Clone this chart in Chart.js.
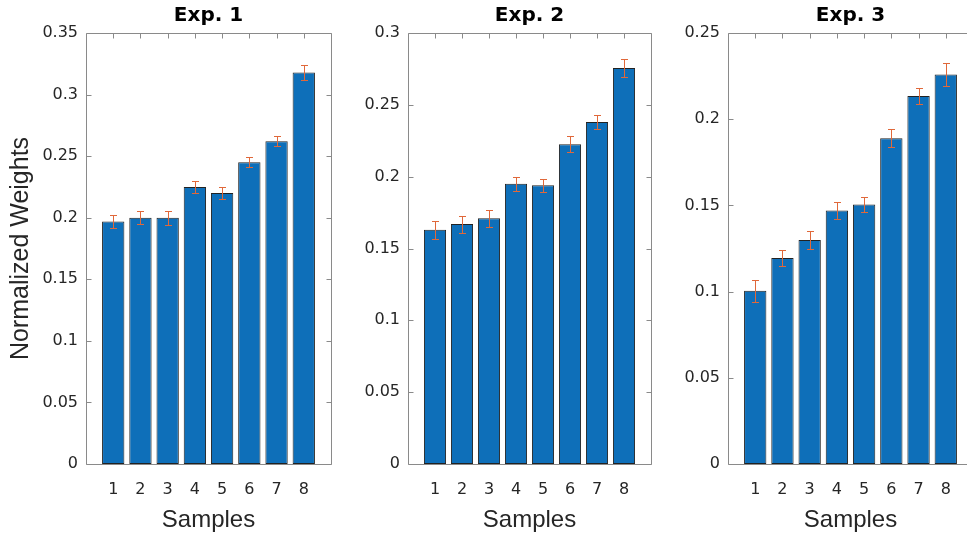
<!DOCTYPE html>
<html>
<head>
<meta charset="utf-8">
<title>Normalized Weights</title>
<script src="https://cdn.jsdelivr.net/npm/chart.js@4/dist/chart.umd.min.js"></script>
<style>
  html, body {
    margin: 0;
    padding: 0;
    background: #ffffff;
    overflow: hidden;
    width: 967px;
    height: 537px;
  }
  .panel {
    position: absolute;
    top: 0;
  }
</style>
</head>
<body>
<div class="panel" style="left:0px"><canvas id="chart1" width="340" height="537"></canvas></div>
<div class="panel" style="left:340px"><canvas id="chart2" width="320" height="537"></canvas></div>
<div class="panel" style="left:660px"><canvas id="chart3" width="322" height="537"></canvas></div>
<script>
const samples = [1, 2, 3, 4, 5, 6, 7, 8];

const exp1Values = [0.197, 0.200, 0.200, 0.225, 0.220, 0.245, 0.262, 0.318];
const exp1Errors = [0.0055, 0.0051, 0.0057, 0.0049, 0.0050, 0.0039, 0.0041, 0.0058];

const exp2Values = [0.163, 0.167, 0.171, 0.195, 0.194, 0.2225, 0.238, 0.2757];
const exp2Errors = [0.0061, 0.0059, 0.0059, 0.0051, 0.0045, 0.0056, 0.0048, 0.0064];

const exp3Values = [0.1005, 0.1195, 0.130, 0.147, 0.1505, 0.189, 0.2135, 0.226];
const exp3Errors = [0.0064, 0.0046, 0.0052, 0.0050, 0.0045, 0.0053, 0.0044, 0.0065];

const exp1Ticks = [0, 0.05, 0.1, 0.15, 0.2, 0.25, 0.3, 0.35];
const exp2Ticks = [0, 0.05, 0.1, 0.15, 0.2, 0.25, 0.3];
const exp3Ticks = [0, 0.05, 0.1, 0.15, 0.2, 0.25];

const titles = ["Exp. 1", "Exp. 2", "Exp. 3"];

const barColor = "#0e6fb9";
const edgeColor = "#222222";
const errorColor = "#e0683a";
const frameColor = "#8a8a8a";
const textColor = "#262626";

// frame with inward ticks on all four sides, drawn under the bars
const framePlugin = {
  id: "frame",
  beforeDatasetsDraw: function (chart) {
    const ctx = chart.ctx;
    const area = chart.chartArea;
    const x = chart.scales.x;
    const y = chart.scales.y;
    const left = Math.round(area.left) + 0.5;
    const right = Math.round(area.right) + 0.5;
    const top = Math.round(area.top) + 0.5;
    const bottom = Math.round(area.bottom) + 0.5;
    const len = 5;

    ctx.save();
    ctx.strokeStyle = frameColor;
    ctx.lineWidth = 1;
    ctx.beginPath();
    ctx.rect(left, top, right - left, bottom - top);

    y.ticks.forEach(function (tick) {
      const py = Math.round(y.getPixelForValue(tick.value)) + 0.5;
      ctx.moveTo(left, py);
      ctx.lineTo(left + len, py);
      ctx.moveTo(right, py);
      ctx.lineTo(right - len, py);
    });
    x.ticks.forEach(function (tick) {
      const px = Math.round(x.getPixelForValue(tick.value)) + 0.5;
      ctx.moveTo(px, top);
      ctx.lineTo(px, top + len);
      ctx.moveTo(px, bottom);
      ctx.lineTo(px, bottom - len);
    });
    ctx.stroke();
    ctx.restore();
  }
};

const errorBarPlugin = {
  id: "errorBars",
  afterDatasetsDraw: function (chart, args, opts) {
    const ctx = chart.ctx;
    const x = chart.scales.x;
    const y = chart.scales.y;
    const values = opts.values;
    const errors = opts.errors;
    const cap = 3.5;

    ctx.save();
    ctx.strokeStyle = errorColor;
    ctx.lineWidth = 1;
    ctx.beginPath();
    samples.forEach(function (sample, i) {
      const px = Math.round(x.getPixelForValue(sample)) + 0.5;
      const hi = Math.round(y.getPixelForValue(values[i] + errors[i])) + 0.5;
      const lo = Math.round(y.getPixelForValue(values[i] - errors[i])) + 0.5;
      ctx.moveTo(px, hi);
      ctx.lineTo(px, lo);
      ctx.moveTo(px - cap, hi);
      ctx.lineTo(px + cap, hi);
      ctx.moveTo(px - cap, lo);
      ctx.lineTo(px + cap, lo);
    });
    ctx.stroke();
    ctx.restore();
  }
};

function formatTick(value) {
  return String(Number(value.toFixed(2)));
}

function createPanel(canvasId, title, values, errors, yTicks, axisWidth, showYTitle) {
  const context = document.getElementById(canvasId);
  return new Chart(context, {
    type: "bar",
    data: {
      datasets: [
        {
          data: samples.map(function (sample, i) {
            return { x: sample, y: values[i] };
          }),
          backgroundColor: barColor,
          borderColor: edgeColor,
          borderWidth: 1,
          borderSkipped: false,
          categoryPercentage: 1,
          barPercentage: 0.82
        }
      ]
    },
    options: {
      responsive: false,
      animation: false,
      events: [],
      layout: {
        padding: { top: 0, left: 0, right: 9, bottom: 0 }
      },
      plugins: {
        legend: { display: false },
        tooltip: { enabled: false },
        title: {
          display: true,
          fullSize: false,
          text: title,
          color: "#000000",
          font: { family: "DejaVu Sans", size: 20, weight: "bold" },
          padding: { top: 4, bottom: 5 }
        },
        errorBars: {
          values: values,
          errors: errors
        }
      },
      scales: {
        x: {
          type: "linear",
          min: 0,
          max: 9,
          offset: false,
          grid: { display: false, drawTicks: false },
          border: { display: false },
          afterBuildTicks: function (scale) {
            scale.ticks = samples.map(function (v) { return { value: v }; });
          },
          afterFit: function (scale) {
            scale.height = 73;
          },
          ticks: {
            color: textColor,
            font: { family: "DejaVu Sans", size: 16 },
            padding: 16,
            maxRotation: 0,
            autoSkip: false,
            callback: function (value) { return String(value); }
          },
          title: {
            display: true,
            text: "Samples",
            color: textColor,
            font: { family: "Liberation Sans", size: 24 },
            padding: { top: 0, bottom: 2 }
          }
        },
        y: {
          min: 0,
          max: yTicks[yTicks.length - 1],
          grid: { display: false, drawTicks: false },
          border: { display: false },
          afterBuildTicks: function (scale) {
            scale.ticks = yTicks.map(function (v) { return { value: v }; });
          },
          afterFit: function (scale) {
            scale.width = axisWidth;
          },
          ticks: {
            color: textColor,
            font: { family: "DejaVu Sans", size: 16 },
            padding: 8,
            callback: function (value) { return formatTick(value); }
          },
          title: {
            display: showYTitle,
            text: "Normalized Weights",
            color: textColor,
            font: { family: "Liberation Sans", size: 25 },
            padding: { top: 6, bottom: 0 }
          }
        }
      }
    },
    plugins: [framePlugin, errorBarPlugin]
  });
}

document.addEventListener("DOMContentLoaded", function () {
  createPanel("chart1", titles[0], exp1Values, exp1Errors, exp1Ticks, 86, true);
  createPanel("chart2", titles[1], exp2Values, exp2Errors, exp2Ticks, 68, false);
  createPanel("chart3", titles[2], exp3Values, exp3Errors, exp3Ticks, 68, false);
});
</script>
</body>
</html>
